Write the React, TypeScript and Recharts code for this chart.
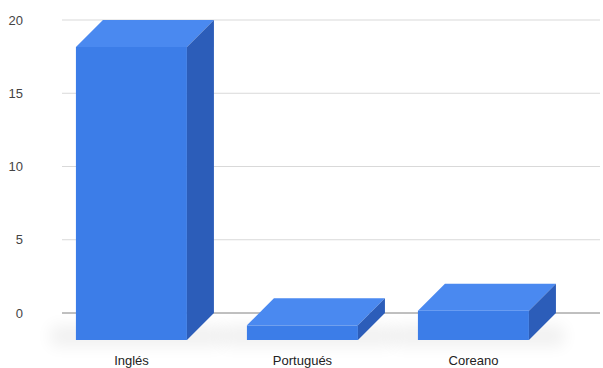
import { BarChart, Bar, XAxis, YAxis, CartesianGrid } from "recharts";

const idiomas = ["Inglés", "Portugués", "Coreano"];
const respuestas = [20, 1, 2];
const yTicks = [0, 5, 10, 15, 20];

const data = idiomas.map((nombre, i) => ({ nombre, valor: respuestas[i] }));

const DEPTH = 27;
const PLOT_BOTTOM = 313;

// 3D box: the scaled rect is the back face, the front face is pushed down-left
function Box3D(props: any) {
  const { x, y, width: w, height: h, index } = props;
  const d = DEPTH;
  const fid = `sombra-${index}`;
  return (
    <g>
      <defs>
        <filter id={fid} x="-50%" y="-200%" width="200%" height="500%">
          <feGaussianBlur stdDeviation="8" />
        </filter>
      </defs>
      <rect x={x - d - 25} y={y + h + d - 14} width={w + 60} height={20} fill="#000" opacity={0.06} filter={`url(#${fid})`} />
      <rect x={x - d} y={y + d} width={w} height={h} fill="#3c7de8" />
      <polygon points={`${x - d},${y + d} ${x},${y} ${x + w},${y} ${x + w - d},${y + d}`} fill="#4a89f0" />
      <polygon points={`${x + w - d},${y + d} ${x + w},${y} ${x + w},${y + h} ${x + w - d},${y + h + d}`} fill="#2c5db9" />
    </g>
  );
}

function GridLine(props: any) {
  const { x1, x2, y1, y2 } = props;
  const cero = Math.abs(y1 - PLOT_BOTTOM) < 1;
  return <line x1={x1} x2={x2} y1={y1} y2={y2} stroke={cero ? "#808080" : "#d9d9d9"} strokeWidth={1} />;
}

export default function App() {
  return (
    <div style={{ position: "absolute", left: 0, top: 0, background: "#fff", fontFamily: "'Liberation Sans', Arial, sans-serif" }}>
      <BarChart width={603} height={368} data={data} margin={{ top: 20, right: 3, bottom: 0, left: 0 }} barCategoryGap="17.5%">
        <CartesianGrid vertical={false} horizontal={(p: any) => <GridLine key={p.key ?? p.y1} {...p} />} />
        <XAxis
          dataKey="nombre"
          height={55}
          axisLine={false}
          tickLine={false}
          tickSize={0}
          tickMargin={43}
          padding={{ left: 11, right: 14 }}
          tick={{ fontSize: 13, fill: "#222", dx: -DEPTH }}
        />
        <YAxis
          domain={[0, 20]}
          ticks={yTicks}
          width={62}
          axisLine={false}
          tickLine={false}
          tickSize={0}
          tickMargin={39}
          tick={{ fontSize: 13, fill: "#444" }}
        />
        <Bar dataKey="valor" shape={<Box3D />} isAnimationActive={false} />
      </BarChart>
    </div>
  );
}
